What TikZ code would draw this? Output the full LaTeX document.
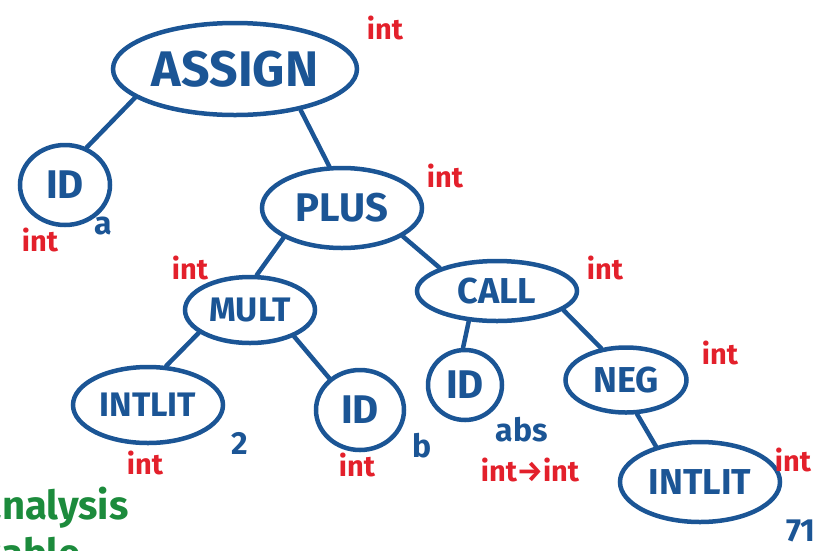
\documentclass[tikz,border=0pt]{standalone}
\usepackage{fontspec}
\setmainfont{Fira Sans}
\usetikzlibrary{shapes.geometric}
\definecolor{ink}{HTML}{1B5595}
\definecolor{redink}{HTML}{E3202B}
\definecolor{greenink}{HTML}{1C8B3C}
\tikzset{
  astnode/.style={draw=ink, line width=4.5pt, ellipse, inner sep=0pt, text=ink, font=\fontsize{40}{40}\selectfont\bfseries},
  edge/.style={draw=ink, line width=4.5pt, line cap=round},
  typelbl/.style={text=redink, font=\fontsize{29}{29}\selectfont\bfseries, inner sep=0pt},
  namelbl/.style={text=ink, font=\fontsize{32}{32}\selectfont\bfseries, inner sep=0pt},
  notelbl/.style={text=greenink, font=\fontsize{40}{40}\selectfont\bfseries, inner sep=0pt, anchor=west}
}
\begin{document}
\begin{tikzpicture}[x=1pt,y=-1pt]
\useasboundingbox (0,0) rectangle (825,550);
\clip (0,0) rectangle (825,550);

% tree nodes
\node[astnode, minimum width=244, minimum height=92, font=\fontsize{50}{50}\selectfont\bfseries] (assign) at (235,69) {ASSIGN};
\node[astnode, minimum width=90, minimum height=80] (ida) at (65,185) {ID};
\node[astnode, minimum width=160, minimum height=80] (plus) at (342,208) {PLUS};
\node[astnode, minimum width=130, minimum height=66, font=\fontsize{34}{34}\selectfont\bfseries] (mult) at (250,310) {MULT};
\node[astnode, minimum width=160, minimum height=60, font=\fontsize{36}{36}\selectfont\bfseries] (call) at (497,291) {CALL};
\node[astnode, minimum width=150, minimum height=76, font=\fontsize{34}{34}\selectfont\bfseries] (lit2) at (148,405) {INTLIT};
\node[astnode, minimum width=88, minimum height=80] (idb) at (360,410) {ID};
\node[astnode, minimum width=74, minimum height=70] (idabs) at (465,385) {ID};
\node[astnode, minimum width=121, minimum height=65, font=\fontsize{36}{36}\selectfont\bfseries] (neg) at (626,380) {NEG};
\node[astnode, minimum width=160, minimum height=80, font=\fontsize{36}{36}\selectfont\bfseries] (lit71) at (700,482) {INTLIT};

% tree edges, from parent border to child border
\draw[edge] (assign.196) -- (ida.60);
\draw[edge] (assign.328) -- (plus.107);
\draw[edge] (plus.207) -- (mult.79);
\draw[edge] (plus.335) -- (call.158);
\draw[edge] (mult.204) -- (lit2.65);
\draw[edge] (mult.329) -- (idb.134);
\draw[edge] (call.227) -- (idabs.93);
\draw[edge] (call.344) -- (neg.128);
\draw[edge] (neg.288) -- (lit71.141);

% type annotations
\node[typelbl] (tassign) at (385,28) {int};
\node[typelbl] (tida) at (40,240) {int};
\node[typelbl] (tplus) at (445,176) {int};
\node[typelbl] (tmult) at (190,268) {int};
\node[typelbl] (tcall) at (605,268) {int};
\node[typelbl] (tlit2) at (145,463) {int};
\node[typelbl] (tidb) at (357,465) {int};
\node[typelbl] (tidabs) at (530,470) {int→int};
\node[typelbl] (tneg) at (720,353) {int};
\node[typelbl] (tlit71) at (793,460) {int};

% identifier names and literal values
\node[namelbl] (na) at (103,226) {a};
\node[namelbl] (n2) at (240,443) {2};
\node[namelbl] (nb) at (422,446) {b};
\node[namelbl] (nabs) at (522,430) {abs};
\node[namelbl, anchor=west] (n71) at (786,531) {71};

% side note
\node[notelbl] (note1) at (-20,508) {analysis};
\node[notelbl] (note2) at (-14,553) {table};
\end{tikzpicture}
\end{document}
